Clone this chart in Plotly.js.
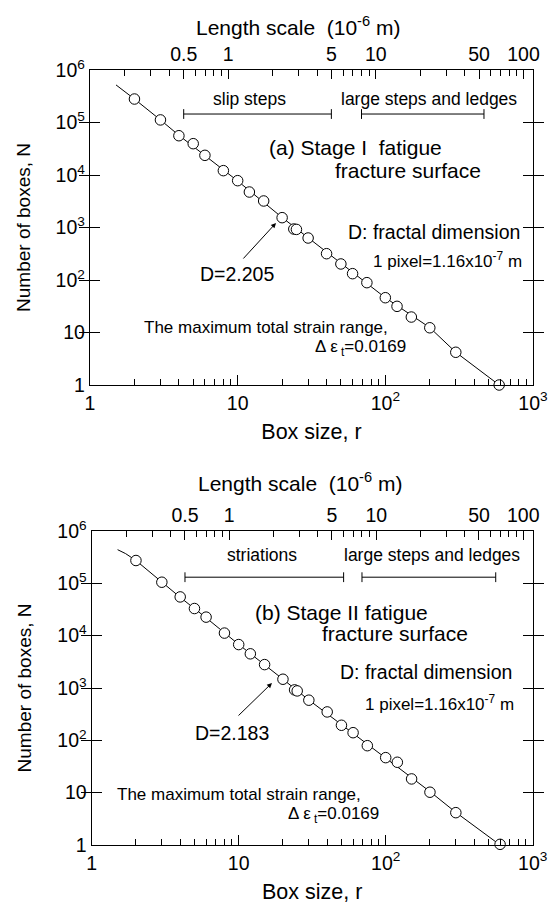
<!DOCTYPE html>
<html>
<head>
<meta charset="utf-8">
<script src="https://cdn.plot.ly/plotly-3.0.1.min.js"></script>
<style>html,body{margin:0;padding:0;background:#fff;}#chart{width:554px;height:905px;}</style>
</head>
<body>
<div id="chart"></div>
<script>
// ---------- data ----------
const pixelSizeUm = 0.116;               // 1 pixel = 1.16x10^-7 m

// (a) Stage I fatigue fracture surface
const stageIBoxSize = [2, 3, 4, 5, 6, 8, 10, 12, 15, 20, 24, 25, 30, 40, 50, 60, 75, 100, 120, 150, 200, 300, 590];
const stageIBoxes   = [2.8e5, 1.12e5, 5.6e4, 3.95e4, 2.37e4, 1.21e4, 7.8e3, 4.74e3, 3.2e3, 1.54e3, 935, 920, 631, 317, 202, 132, 89, 46, 31.5, 19.7, 12.3, 4.2, 1.0];
const stageIFitR    = [1.5, 2, 3, 4, 6, 10, 20, 30, 50, 100, 200, 300, 590];
const stageIFitN    = [5.2e5, 2.8e5, 1.12e5, 5.7e4, 2.35e4, 7.7e3, 1.55e3, 635, 205, 46, 12.4, 4.2, 1.0];
const stageIRanges  = [[0.5, 5], [8, 54]];
const stageILabels  = ["slip steps", "large steps and ledges"];

// (b) Stage II fatigue fracture surface
const stageIIBoxSize = [2, 3, 4, 5, 6, 8, 10, 12, 15, 20, 24, 25, 30, 40, 50, 60, 75, 100, 120, 150, 200, 300, 600];
const stageIIBoxes   = [2.73e5, 1.05e5, 5.5e4, 3.3e4, 2.26e4, 1.12e4, 6.76e3, 4.5e3, 2.8e3, 1.47e3, 920, 880, 585, 349, 194, 140, 79, 46.7, 38.1, 18.3, 10.2, 4.15, 1.03];
const stageIIFitR    = [1.5, 1.7, 2, 3, 4, 6, 10, 20, 30, 50, 100, 200, 300, 600];
const stageIIFitN    = [4.4e5, 3.7e5, 2.73e5, 1.05e5, 5.4e4, 2.2e4, 6.8e3, 1.47e3, 590, 200, 46, 10.5, 4.2, 1.0];
const stageIIRanges  = [[0.5, 6], [8, 65]];
const stageIILabels  = ["striations", "large steps and ledges"];

const lengthTicks = [0.5, 1, 5, 10, 50, 100];
const lengthMinor = [0.2, 0.3, 0.4, 0.6, 0.7, 0.8, 0.9, 2, 3, 4, 6, 7, 8, 9, 20, 30, 40, 60, 70, 80, 90];
const boxTicks = [1, 10, 100, 1000];
const boxTickText = ["1", "10", "10<sup>2</sup>", "10<sup>3</sup>"];
const boxMinor = [2,3,4,5,6,7,8,9,20,30,40,50,60,70,80,90,200,300,400,500,600,700,800,900];
const nTicks = [1, 10, 100, 1e3, 1e4, 1e5, 1e6];
const nTickText = ["1", "10", "10<sup>2</sup>", "10<sup>3</sup>", "10<sup>4</sup>", "10<sup>5</sup>", "10<sup>6</sup>"];

// ---------- helpers ----------
const W = 554, H = 905;
const FONT = "Liberation Sans, Arial, Helvetica, sans-serif";
const px = v => v / W;
const py = v => 1 - v / H;

function panelTraces(xa, xaLen, ya, r, n, fitR, fitN, ranges, barY) {
  const t = [];
  t.push({x: fitR, y: fitN, xaxis: xa, yaxis: ya, mode: "lines", line: {color: "#000", width: 1},
          cliponaxis: false, hoverinfo: "skip", showlegend: false});
  t.push({x: r, y: n, xaxis: xa, yaxis: ya, mode: "markers", cliponaxis: false,
          marker: {symbol: "circle", size: 10.5, color: "#fff", line: {color: "#000", width: 1}}, showlegend: false});
  ranges.forEach(rg => {
    t.push({x: rg, y: [barY, barY], xaxis: xaLen, yaxis: ya, mode: "lines+markers",
            line: {color: "#000", width: 1},
            marker: {symbol: "line-ns", size: 7, line: {color: "#000", width: 1}},
            hoverinfo: "skip", showlegend: false});
  });
  return t;
}

const data = [
  ...panelTraces("x", "x2", "y", stageIBoxSize, stageIBoxes, stageIFitR, stageIFitN, stageIRanges, 1.45e5),
  ...panelTraces("x3", "x4", "y2", stageIIBoxSize, stageIIBoxes, stageIIFitR, stageIIFitN, stageIIRanges, 1.31e5)
];

function boxAxis(domain, anchor) {
  return {
    type: "log", domain: domain, anchor: anchor, range: [0, 3],
    tickmode: "array", tickvals: boxTicks, ticktext: boxTickText,
    ticks: "inside", ticklen: 10, tickwidth: 1, tickcolor: "#000",
    minor: {tickmode: "array", tickvals: boxMinor, ticks: "inside", ticklen: 6, tickwidth: 1, tickcolor: "#000"},
    showline: true, linecolor: "#000", linewidth: 1.2, mirror: false,
    showgrid: false, zeroline: false,
    tickfont: {family: FONT, size: 19.5, color: "#000"},
    title: {text: "Box size, r", font: {family: FONT, size: 21.5, color: "#000"}, standoff: 11}
  };
}
function lengthAxis(overlay, anchor) {
  return {
    type: "log", overlaying: overlay, anchor: anchor, side: "top",
    range: [Math.log10(1 * pixelSizeUm), Math.log10(1000 * pixelSizeUm)],
    tickmode: "array", tickvals: lengthTicks, ticktext: lengthTicks.map(String),
    ticks: "inside", ticklen: 9, tickwidth: 1, tickcolor: "#000",
    minor: {tickmode: "array", tickvals: lengthMinor, ticks: "inside", ticklen: 6, tickwidth: 1, tickcolor: "#000"},
    showline: true, linecolor: "#000", linewidth: 1.2,
    showgrid: false, zeroline: false,
    tickfont: {family: FONT, size: 19.5, color: "#000"}
  };
}
function nAxis(domain, anchor) {
  return {
    type: "log", domain: domain, anchor: anchor, range: [0, 6],
    tickmode: "array", tickvals: nTicks, ticktext: nTickText,
    ticks: "inside", ticklen: 10, tickwidth: 1, tickcolor: "#000",
    showline: true, linecolor: "#000", linewidth: 1.2, mirror: "allticks",
    showgrid: false, zeroline: false,
    tickfont: {family: FONT, size: 19.5, color: "#000"},
    title: {text: "Number of boxes, N", font: {family: FONT, size: 19, color: "#000"}, standoff: 20}
  };
}

function note(text, x, y, size, xanchor) {
  return {text: text, xref: "paper", yref: "paper", x: px(x), y: py(y),
          xanchor: xanchor || "left", yanchor: "middle", showarrow: false,
          font: {family: FONT, size: size, color: "#000"}};
}
function arrow(xHead, yHead, ax, ay) {
  return {text: "", xref: "paper", yref: "paper", x: px(xHead), y: py(yHead),
          showarrow: true, ax: ax, ay: ay, arrowhead: 2, arrowsize: 1, arrowwidth: 1, arrowcolor: "#000"};
}

const lengthTitle = "Length scale\u00A0\u00A0(10<sup>-6</sup> m)";

const annotations = [
  // panel (a)
  note(lengthTitle, 298, 26, 21, "center"),
  note(stageILabels[0], 250, 99, 17.5, "center"),
  note(stageILabels[1], 429, 99, 17.5, "center"),
  note("(a) Stage I\u00A0\u00A0fatigue", 267, 148, 21),
  note("fracture surface", 333, 171, 21),
  note("D: fractal dimension", 346, 232, 19.5),
  note("1 pixel=1.16x10<sup>-7</sup> m", 371, 260, 17),
  note("D=2.205", 198, 274, 19.5),
  note("The maximum total strain range,", 142, 327, 17),
  note("Δ ε<sub> t</sub>=0.0169", 313, 348, 17),
  arrow(276, 223, -34, 37),
  // panel (b)
  note(lengthTitle, 300, 482, 21, "center"),
  note(stageIILabels[0], 262, 555, 17.5, "center"),
  note(stageIILabels[1], 432, 555, 17.5, "center"),
  note("(b) Stage II fatigue", 253, 612, 21),
  note("fracture surface", 320, 633, 21),
  note("D: fractal dimension", 338, 672, 19.5),
  note("1 pixel=1.16x10<sup>-7</sup> m", 363, 703, 17),
  note("D=2.183", 193, 733, 19.5),
  note("The maximum total strain range,", 115, 794, 17),
  note("Δ ε<sub> t</sub>=0.0169", 286, 815, 17),
  arrow(272, 683, -35, 34)
];

const layout = {
  width: W, height: H,
  margin: {l: 0, r: 0, t: 0, b: 0},
  paper_bgcolor: "#fff", plot_bgcolor: "#fff",
  showlegend: false,
  font: {family: FONT, color: "#000"},
  xaxis: boxAxis([90 / W, 533 / W], "y"),
  xaxis2: lengthAxis("x", "y"),
  yaxis: nAxis([1 - 385 / H, 1 - 70 / H], "x"),
  xaxis3: boxAxis([91.7 / W, 532.7 / W], "y2"),
  xaxis4: lengthAxis("x3", "y2"),
  yaxis2: nAxis([1 - 845 / H, 1 - 531 / H], "x3"),
  annotations: annotations
};

Plotly.newPlot("chart", data, layout, {displayModeBar: false, staticPlot: true});
</script>
</body>
</html>
